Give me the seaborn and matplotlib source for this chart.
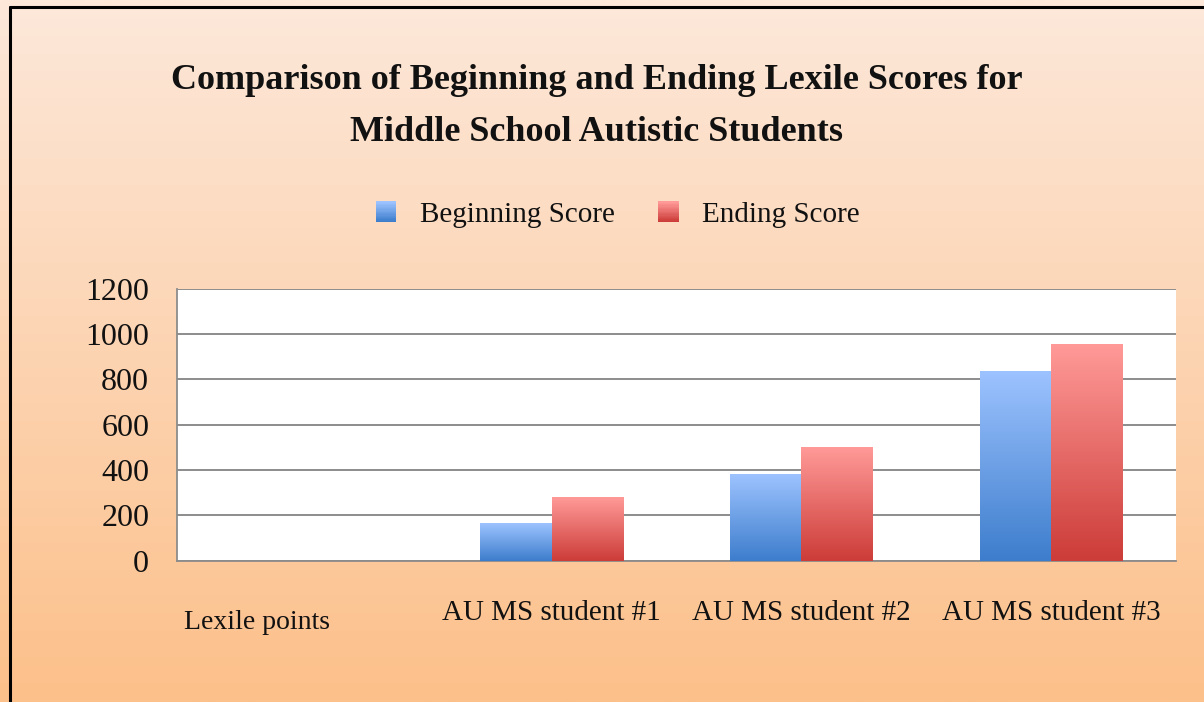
import numpy as np
import pandas as pd
import matplotlib
matplotlib.use("Agg")
import matplotlib.pyplot as plt
import seaborn as sns
from matplotlib.patches import Rectangle
from matplotlib.legend_handler import HandlerBase
from matplotlib.lines import Line2D
import matplotlib.transforms as mtransforms

# -----------------------------
# Data
# -----------------------------
categories = ["Lexile points", "AU MS student #1", "AU MS student #2", "AU MS student #3"]
beginning_score = [0, 165, 380, 835]
ending_score = [0, 280, 500, 955]
series = ["Beginning Score", "Ending Score"]
y_ticks = [0, 200, 400, 600, 800, 1000, 1200]

title = "Comparison of Beginning and Ending Lexile Scores for\nMiddle School Autistic Students"

# gradient colours (top, bottom)
blue_grad = ("#9dc3ff", "#3d7dcc")
red_grad = ("#ff9a98", "#cc3c38")
bg_grad = ("#fde8da", "#fcc08a")

df = pd.DataFrame({
    "student": categories * 2,
    "score": beginning_score + ending_score,
    "series": [series[0]] * len(categories) + [series[1]] * len(categories),
})

sns.set_style("white")
plt.rcParams["font.family"] = ["Liberation Serif", "DejaVu Serif"]
TXT = "#111111"


def hex_rgb(h):
    return np.array(matplotlib.colors.to_rgb(h))


def vertical_gradient(top, bottom, n=256):
    t = np.linspace(0, 1, n)[:, None]
    rgb = hex_rgb(top) * (1 - t) + hex_rgb(bottom) * t
    return rgb[:, None, :]


class GradientHandler(HandlerBase):
    """Legend key drawn as a small square with a vertical gradient."""

    def __init__(self, top, bottom):
        super().__init__()
        self.top, self.bottom = top, bottom

    def create_artists(self, legend, orig_handle, xdescent, ydescent,
                       width, height, fontsize, trans):
        size = min(width, height)
        x0 = -xdescent + (width - size) / 2
        y0 = -ydescent + (height - size) / 2
        n = 16
        arts = []
        for i in range(n):
            t = i / (n - 1)
            c = hex_rgb(self.bottom) * (1 - t) + hex_rgb(self.top) * t
            arts.append(Rectangle((x0, y0 + i * size / n), size, size / n + 0.2,
                                  facecolor=c, edgecolor="none", transform=trans))
        return arts


fig = plt.figure(figsize=(12.04, 7.02), dpi=100)

# background gradient
bg = fig.add_axes([0, 0, 1, 1], zorder=-10)
bg.imshow(vertical_gradient(*bg_grad), aspect="auto", extent=[0, 1, 0, 1])
bg.set_axis_off()

# frame border
fig.add_artist(Line2D([0.0085, 0.0085], [0, 0.99], color="black", lw=2.2))
fig.add_artist(Line2D([0.0085, 1.0], [0.99, 0.99], color="black", lw=2.2))

ax = fig.add_axes([0.147, 0.2013, 0.8297, 0.3875])
ax.set_facecolor("white")

sns.barplot(data=df, x="student", y="score", hue="series", order=categories,
            hue_order=series, width=0.57, ax=ax, legend=False,
            palette=[blue_grad[1], red_grad[1]])

# replace flat bars by vertical gradients
grads = [blue_grad] * len(categories) + [red_grad] * len(categories)
for patch, g in zip(ax.patches, grads):
    x0, w, h = patch.get_x(), patch.get_width(), patch.get_height()
    patch.set_visible(False)
    if h > 0:
        ax.imshow(vertical_gradient(*g), aspect="auto",
                  extent=[x0, x0 + w, 0, h], zorder=3)

ax.set_xlim(-0.5, len(categories) - 0.5)
ax.set_ylim(0, 1200)
ax.set_yticks(y_ticks)
ax.set_yticklabels([str(v) for v in y_ticks], fontsize=23, color=TXT)
ax.set_xticks(range(len(categories)))
ax.set_xticklabels(categories, fontsize=21, color=TXT)
ax.set_xticks(np.arange(-0.5, len(categories)), minor=True)
ax.tick_params(axis="x", which="major", length=0, pad=28)
ax.tick_params(axis="x", which="minor", length=10, color="#8c8c8c", width=1.3)
ax.tick_params(axis="y", length=9, color="#8c8c8c", width=1.3, pad=11)

ax.grid(axis="y", color="#8c8c8c", lw=1.4, zorder=0)
ax.set_axisbelow(True)
for side in ["top", "right"]:
    ax.spines[side].set_visible(False)
for side in ["left", "bottom"]:
    ax.spines[side].set_color("#8c8c8c")
    ax.spines[side].set_linewidth(1.3)
ax.set_xlabel("")
ax.set_ylabel("")

# first category label sits lower and to the left
lbl = ax.get_xticklabels()[0]
lbl.set_fontsize(20)
lbl.set_transform(lbl.get_transform() +
                  mtransforms.ScaledTranslation(-0.45, -0.1, fig.dpi_scale_trans))

fig.text(0.4954, 0.848, title, ha="center", va="center", fontsize=26,
         fontweight="bold", linespacing=1.75, color=TXT)

handles = [Rectangle((0, 0), 1, 1), Rectangle((0, 0), 1, 1)]
leg = fig.legend(handles, series, loc="center", bbox_to_anchor=(0.513, 0.694),
                 ncol=2, frameon=False, fontsize=21, handlelength=0.7,
                 handleheight=0.7, handletextpad=0.8, columnspacing=1.5,
                 handler_map={handles[0]: GradientHandler(*blue_grad),
                              handles[1]: GradientHandler(*red_grad)})
for t in leg.get_texts():
    t.set_color(TXT)

fig.savefig("out.png", dpi=100)
